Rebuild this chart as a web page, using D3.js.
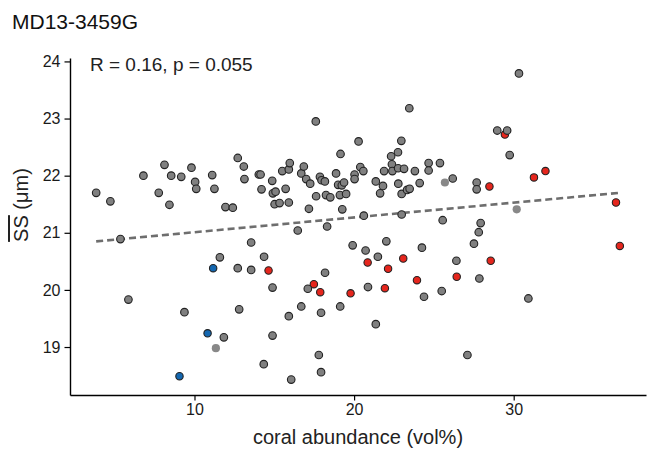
<!DOCTYPE html>
<html>
<head>
<meta charset="utf-8">
<script src="https://cdn.jsdelivr.net/npm/d3@7"></script>
<style>
  body { margin: 0; background: #fff; }
  text { font-family: "Liberation Sans", Arial, sans-serif; }
</style>
</head>
<body>
<div id="chart"></div>
<script>
// grey points (coral abundance vs mean sorting)
var greyX = [3.84, 4.73, 5.36, 5.86, 6.80, 8.12, 7.76, 8.54, 8.43, 9.17, 9.81, 10.04, 10.11, 11.11, 11.25, 11.94, 12.40,
  12.71, 13.09, 13.13, 14.03, 14.14, 14.20, 14.87, 14.91, 15.08, 15.02, 15.33, 15.50, 15.71, 15.91, 15.97, 15.91,
  16.69, 16.85, 17.00, 17.25, 17.17, 17.62, 17.60, 17.86, 17.96, 18.17, 18.24, 18.51, 18.87, 19.15, 19.00, 19.23,
  19.37, 19.11, 19.50, 19.26, 20.28, 20.39, 20.58, 20.03, 20.03, 20.61, 21.36, 21.81, 21.63, 21.88, 22.32, 22.37,
  22.40, 22.75, 22.76, 23.13, 22.77, 22.98, 22.96, 23.46, 23.32, 23.48, 23.81, 24.11, 24.67, 24.67, 25.38, 26.18,
  22.98, 25.55, 27.68, 27.68, 28.97, 29.59, 29.75, 30.33, 27.93, 27.81, 27.51, 27.85, 27.10, 30.92, 26.41, 24.25,
  25.49, 24.38, 22.02, 21.49, 20.72, 19.91, 20.87, 21.36, 19.13, 18.31, 16.47, 18.18, 17.10, 16.69, 17.93, 15.91,
  14.89, 14.89, 14.36, 13.55, 13.55, 12.71, 12.80, 11.59, 11.84, 14.34, 16.06, 17.79, 17.93, 9.37];
var greyY = [21.70, 21.55, 20.89, 19.83, 22.00, 22.19, 21.70, 22.00, 21.49, 21.98, 22.14, 21.89, 21.77, 22.01, 21.77, 21.45, 21.44,
  22.31, 22.16, 21.94, 22.02, 22.02, 21.76, 21.91, 21.69, 21.72, 21.50, 21.52, 22.08, 21.77, 22.11, 22.22, 21.53,
  22.04, 22.16, 21.94, 21.86, 21.42, 21.64, 22.95, 21.98, 21.92, 21.90, 21.66, 21.62, 22.04, 22.38, 21.84, 21.83,
  21.88, 21.66, 21.68, 21.41, 22.60, 22.15, 22.08, 22.02, 21.94, 21.30, 21.90, 21.82, 21.69, 22.08, 22.34, 22.20,
  22.08, 22.41, 22.13, 22.12, 21.86, 21.68, 22.61, 23.18, 21.75, 21.77, 22.08, 21.87, 22.22, 22.09, 22.22, 21.95,
  21.32, 21.22, 21.88, 21.76, 22.79, 22.79, 22.36, 23.79, 21.17, 21.01, 20.81, 20.20, 18.86, 19.85, 20.51, 20.74,
  19.98, 19.88, 20.85, 20.58, 20.69, 20.78, 20.05, 19.40, 19.71, 21.11, 21.04, 20.30, 20.02, 19.71, 19.60, 19.54,
  19.20, 20.04, 20.58, 20.83, 20.35, 20.38, 19.66, 20.57, 19.17, 18.70, 18.43, 18.86, 18.56, 19.61];

var redX = [14.64, 17.48, 17.88, 19.78, 20.85, 22.13, 23.08, 21.93, 23.94, 26.43, 28.56, 28.48, 31.27, 31.99, 29.45, 36.41, 36.65];
var redY = [20.34, 20.10, 19.96, 19.94, 20.48, 20.37, 20.55, 20.03, 20.17, 20.23, 20.51, 21.81, 21.97, 22.08, 22.72, 21.53, 20.77];

var blueX = [11.17, 10.82, 9.06];
var blueY = [20.38, 19.24, 18.49];

var lightX = [11.34, 25.69, 30.19];
var lightY = [18.98, 21.88, 21.41];

// dashed fit line, end points
var trendX = [3.84, 36.65];
var trendY = [20.85, 21.70];

var xTicks = [10, 20, 30];
var yTicks = [19, 20, 21, 22, 23, 24];

var width = 648, height = 449;
var margin = {top: 58, right: 2, bottom: 54, left: 70};

var svg = d3.select("#chart").append("svg")
  .attr("width", width)
  .attr("height", height);

var x = d3.scaleLinear().domain([2.2, 38.29]).range([margin.left, width - margin.right]);
var y = d3.scaleLinear().domain([18.16, 24.06]).range([height - margin.bottom, margin.top]);

// axes
var xAxis = svg.append("g")
  .attr("transform", "translate(0," + (height - margin.bottom) + ")")
  .call(d3.axisBottom(x).tickValues(xTicks).tickFormat(d3.format("d"))
    .tickSize(5.5).tickPadding(3).tickSizeOuter(0));
var yAxis = svg.append("g")
  .attr("transform", "translate(" + margin.left + ",0)")
  .call(d3.axisLeft(y).tickValues(yTicks).tickFormat(d3.format("d"))
    .tickSize(5.5).tickPadding(4).tickSizeOuter(0));

[xAxis, yAxis].forEach(function(a) {
  a.select(".domain").attr("stroke", "#000").attr("stroke-width", 1.4);
  a.selectAll(".tick line").attr("stroke", "#000").attr("stroke-width", 1.2);
  a.selectAll(".tick text").attr("fill", "#1a1a1a").style("font-size", "16px")
    .style("font-family", "'Liberation Sans', Arial, sans-serif");
});

// trend line
svg.append("line")
  .attr("x1", x(trendX[0])).attr("y1", y(trendY[0]))
  .attr("x2", x(trendX[1])).attr("y2", y(trendY[1]))
  .attr("stroke", "#6e6e6e")
  .attr("stroke-width", 2.6)
  .attr("stroke-dasharray", "7,4");

function drawPoints(xs, ys, fill, stroke, r) {
  svg.append("g").selectAll("circle")
    .data(xs.map(function(d, i) { return {x: d, y: ys[i]}; }))
    .enter().append("circle")
    .attr("cx", function(d) { return x(d.x); })
    .attr("cy", function(d) { return y(d.y); })
    .attr("r", r)
    .attr("fill", fill)
    .attr("stroke", stroke)
    .attr("stroke-width", stroke === "none" ? 0 : 1.1);
}

drawPoints(redX, redY, "#e5261d", "#222", 3.7);
drawPoints(blueX, blueY, "#1467b0", "#222", 3.7);
drawPoints(greyX, greyY, "#808080", "#222", 3.8);
drawPoints(lightX, lightY, "#888888", "none", 4.1);

// title
svg.append("text")
  .attr("x", 12).attr("y", 29)
  .style("font-size", "21px")
  .attr("fill", "#111")
  .text("MD13-3459G");

// stat label
svg.append("text")
  .attr("x", 90).attr("y", 71)
  .style("font-size", "19px")
  .attr("fill", "#222")
  .text("R = 0.16, p = 0.055");

// x title
svg.append("text")
  .attr("x", (margin.left + width - margin.right) / 2)
  .attr("y", 444)
  .attr("text-anchor", "middle")
  .style("font-size", "20px")
  .attr("fill", "#222")
  .text("coral abundance (vol%)");

// y title with overline on SS
var yt = svg.append("text")
  .attr("transform", "translate(28,205) rotate(-90)")
  .attr("text-anchor", "middle")
  .style("font-size", "20px")
  .attr("fill", "#222");
yt.append("tspan").style("text-decoration", "overline").text("SS");
yt.append("tspan").text(" (μm)");
</script>
</body>
</html>
